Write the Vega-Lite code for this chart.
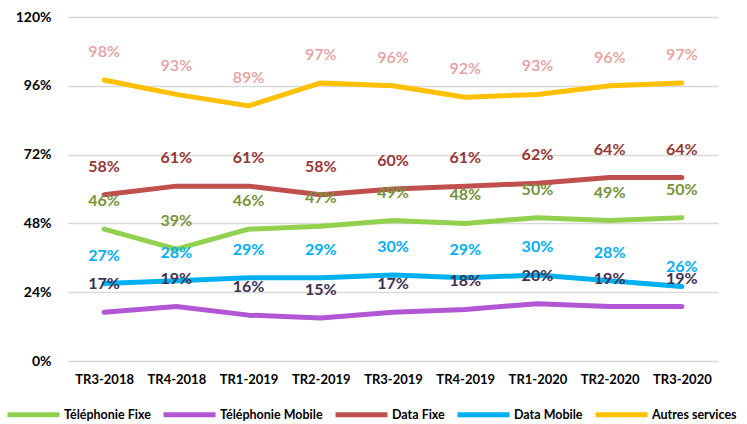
{
  "$schema": "https://vega.github.io/schema/vega-lite/v6.json",
  "width": 650,
  "height": 344,
  "autosize": "none",
  "padding": {"left": 68, "top": 17, "right": 29, "bottom": 63},
  "background": "white",
  "config": {
    "view": {"stroke": null},
    "font": "Lato"
  },
  "data": {
    "values": [
      {"periode": "TR3-2018", "serie": "Téléphonie Fixe", "valeur": 0.46},
      {"periode": "TR4-2018", "serie": "Téléphonie Fixe", "valeur": 0.39},
      {"periode": "TR1-2019", "serie": "Téléphonie Fixe", "valeur": 0.46},
      {"periode": "TR2-2019", "serie": "Téléphonie Fixe", "valeur": 0.47},
      {"periode": "TR3-2019", "serie": "Téléphonie Fixe", "valeur": 0.49},
      {"periode": "TR4-2019", "serie": "Téléphonie Fixe", "valeur": 0.48},
      {"periode": "TR1-2020", "serie": "Téléphonie Fixe", "valeur": 0.50},
      {"periode": "TR2-2020", "serie": "Téléphonie Fixe", "valeur": 0.49},
      {"periode": "TR3-2020", "serie": "Téléphonie Fixe", "valeur": 0.50},
      {"periode": "TR3-2018", "serie": "Téléphonie Mobile", "valeur": 0.17},
      {"periode": "TR4-2018", "serie": "Téléphonie Mobile", "valeur": 0.19},
      {"periode": "TR1-2019", "serie": "Téléphonie Mobile", "valeur": 0.16},
      {"periode": "TR2-2019", "serie": "Téléphonie Mobile", "valeur": 0.15},
      {"periode": "TR3-2019", "serie": "Téléphonie Mobile", "valeur": 0.17},
      {"periode": "TR4-2019", "serie": "Téléphonie Mobile", "valeur": 0.18},
      {"periode": "TR1-2020", "serie": "Téléphonie Mobile", "valeur": 0.20},
      {"periode": "TR2-2020", "serie": "Téléphonie Mobile", "valeur": 0.19},
      {"periode": "TR3-2020", "serie": "Téléphonie Mobile", "valeur": 0.19},
      {"periode": "TR3-2018", "serie": "Data Fixe", "valeur": 0.58},
      {"periode": "TR4-2018", "serie": "Data Fixe", "valeur": 0.61},
      {"periode": "TR1-2019", "serie": "Data Fixe", "valeur": 0.61},
      {"periode": "TR2-2019", "serie": "Data Fixe", "valeur": 0.58},
      {"periode": "TR3-2019", "serie": "Data Fixe", "valeur": 0.60},
      {"periode": "TR4-2019", "serie": "Data Fixe", "valeur": 0.61},
      {"periode": "TR1-2020", "serie": "Data Fixe", "valeur": 0.62},
      {"periode": "TR2-2020", "serie": "Data Fixe", "valeur": 0.64},
      {"periode": "TR3-2020", "serie": "Data Fixe", "valeur": 0.64},
      {"periode": "TR3-2018", "serie": "Data Mobile", "valeur": 0.27},
      {"periode": "TR4-2018", "serie": "Data Mobile", "valeur": 0.28},
      {"periode": "TR1-2019", "serie": "Data Mobile", "valeur": 0.29},
      {"periode": "TR2-2019", "serie": "Data Mobile", "valeur": 0.29},
      {"periode": "TR3-2019", "serie": "Data Mobile", "valeur": 0.30},
      {"periode": "TR4-2019", "serie": "Data Mobile", "valeur": 0.29},
      {"periode": "TR1-2020", "serie": "Data Mobile", "valeur": 0.30},
      {"periode": "TR2-2020", "serie": "Data Mobile", "valeur": 0.28},
      {"periode": "TR3-2020", "serie": "Data Mobile", "valeur": 0.26},
      {"periode": "TR3-2018", "serie": "Autres services", "valeur": 0.98},
      {"periode": "TR4-2018", "serie": "Autres services", "valeur": 0.93},
      {"periode": "TR1-2019", "serie": "Autres services", "valeur": 0.89},
      {"periode": "TR2-2019", "serie": "Autres services", "valeur": 0.97},
      {"periode": "TR3-2019", "serie": "Autres services", "valeur": 0.96},
      {"periode": "TR4-2019", "serie": "Autres services", "valeur": 0.92},
      {"periode": "TR1-2020", "serie": "Autres services", "valeur": 0.93},
      {"periode": "TR2-2020", "serie": "Autres services", "valeur": 0.96},
      {"periode": "TR3-2020", "serie": "Autres services", "valeur": 0.97}
    ]
  },
  "encoding": {
    "x": {
      "field": "periode",
      "type": "ordinal",
      "sort": null,
      "scale": {"type": "point", "padding": 0.5},
      "axis": {
        "title": null,
        "labelAngle": 0,
        "labelFont": "Lato",
        "labelFontSize": 13,
        "labelFontWeight": "bold",
        "labelColor": "#000000",
        "labelPadding": 12,
        "domain": false,
        "ticks": false,
        "grid": false
      }
    },
    "y": {
      "field": "valeur",
      "type": "quantitative",
      "scale": {"domain": [0, 1.2], "nice": false},
      "axis": {
        "title": null,
        "values": [0, 0.24, 0.48, 0.72, 0.96, 1.2],
        "format": ".0%",
        "labelFont": "Lato",
        "labelFontSize": 14,
        "labelFontWeight": "bold",
        "labelColor": "#000000",
        "labelPadding": 17,
        "domain": false,
        "ticks": false,
        "grid": true,
        "gridColor": "#D9D9D9",
        "gridWidth": 1.5
      }
    }
  },
  "layer": [
    {
      "mark": {"type": "line", "strokeWidth": 5, "strokeCap": "round", "strokeJoin": "round"},
      "encoding": {
        "color": {
          "field": "serie",
          "type": "nominal",
          "scale": {
            "domain": ["Téléphonie Fixe", "Téléphonie Mobile", "Data Fixe", "Data Mobile", "Autres services"],
            "range": ["#92D050", "#B157D4", "#C0504D", "#00B0F0", "#FFC000"]
          },
          "legend": {
            "title": null,
            "orient": "none",
            "legendX": -63,
            "legendY": 369,
            "direction": "horizontal",
            "symbolType": "stroke",
            "symbolSize": 2704,
            "symbolStrokeWidth": 5,
            "labelFont": "Lato",
            "labelFontSize": 12.5,
            "labelFontWeight": "bold",
            "labelColor": "#000000",
            "labelOffset": 2,
            "columnPadding": 2,
            "labelLimit": 200
          }
        }
      }
    },
    {
      "transform": [{"filter": "datum.serie != 'Autres services' && !(datum.serie == 'Data Mobile' && datum.periode == 'TR3-2020')"}],
      "mark": {"type": "text", "dy": -28, "fontSize": 16, "fontWeight": "bold", "font": "Lato", "baseline": "middle"},
      "encoding": {
        "text": {"field": "valeur", "type": "quantitative", "format": ".0%"},
        "color": {
          "field": "serie",
          "type": "nominal",
          "scale": {
            "domain": ["Téléphonie Fixe", "Téléphonie Mobile", "Data Fixe", "Data Mobile", "Autres services"],
            "range": ["#77933C", "#403152", "#953735", "#00B0F0", "#E6A0A0"]
          },
          "legend": null
        }
      }
    },
    {
      "transform": [{"filter": "datum.serie == 'Data Mobile' && datum.periode == 'TR3-2020'"}],
      "mark": {"type": "text", "dy": -19, "fontSize": 16, "fontWeight": "bold", "font": "Lato", "baseline": "middle", "color": "#00B0F0"},
      "encoding": {
        "text": {"field": "valeur", "type": "quantitative", "format": ".0%"}
      }
    },
    {
      "transform": [{"filter": "datum.serie == 'Autres services'"}],
      "mark": {"type": "text", "dy": -28, "fontSize": 16, "fontWeight": 600, "font": "Lato", "baseline": "middle", "color": "#E6A0A0"},
      "encoding": {
        "text": {"field": "valeur", "type": "quantitative", "format": ".0%"}
      }
    }
  ],
  "resolve": {"scale": {"color": "independent"}}
}
